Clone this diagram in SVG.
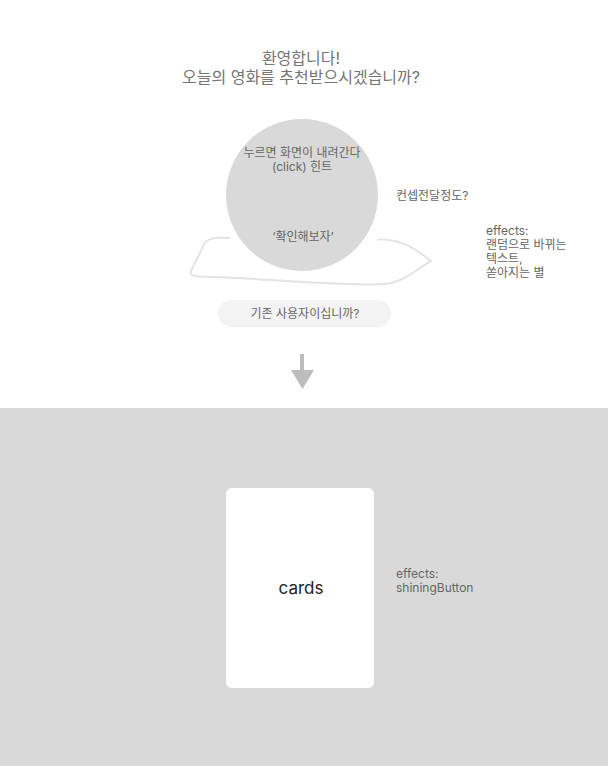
<svg xmlns="http://www.w3.org/2000/svg" width="608" height="766" viewBox="0 0 608 766">
<style>
text{font-family:Inter,"Noto Sans CJK KR",sans-serif;}
.t{font-size:12px;fill:#666;}
.title{font-size:16px;fill:#757575;text-anchor:middle;}
.c{text-anchor:middle;}
</style>
<rect width="608" height="766" fill="#fff"/>
<rect x="0" y="408" width="608" height="358" fill="#d9d9d9"/>
<g id="title">
<text class="title" x="301" y="64">환영합니다!</text>
<text class="title" x="301" y="83">오늘의 영화를 추천받으시겠습니까?</text>
</g>
<g id="scribble">
<path d="M230 238 C215 237 206 238 203 246 C199 256 194 264 191 271 C189 276 194 277 215 277 C260 278 340 287 385 284 C405 282 418 268 431 261 C420 252 408 244 395 241 C385 239 380 239 377 240" fill="none" stroke="#e3e3e3" stroke-width="2"/>
</g>
<g id="circle">
<circle cx="302" cy="195" r="76" fill="#d9d9d9"/>
<text class="t c" x="302" y="157">누르면 화면이 내려간다</text>
<text class="t c" x="302" y="171">(click) 힌트</text>
<text class="t c" x="303" y="241">‘확인해보자’</text>
</g>
<g id="note1"><text class="t" x="396" y="200">컨셉전달정도?</text></g>
<g id="note2">
<text class="t" x="486" y="235">effects:</text>
<text class="t" x="486" y="249">랜덤으로 바뀌는</text>
<text class="t" x="486" y="263">텍스트,</text>
<text class="t" x="486" y="277">쏟아지는 별</text>
</g>
<g id="pill">
<rect x="218" y="300" width="173" height="27" rx="13.5" fill="#f3f3f3"/>
<text class="t c" x="305" y="318">기존 사용자이십니까?</text>
</g>
<g id="connectors">
<rect x="300" y="354" width="4" height="17" fill="#bdbdbd"/>
<path d="M291 370 L314 370 L302.5 389 Z" fill="#bdbdbd"/>
</g>
<g id="card">
<rect x="226" y="488" width="148" height="200" rx="6" fill="#fff"/>
<text class="c" x="301" y="594" font-size="17" fill="#222">cards</text>
</g>
<g id="note3">
<text class="t" x="396" y="578">effects:</text>
<text class="t" x="396" y="592">shiningButton</text>
</g>
</svg>
